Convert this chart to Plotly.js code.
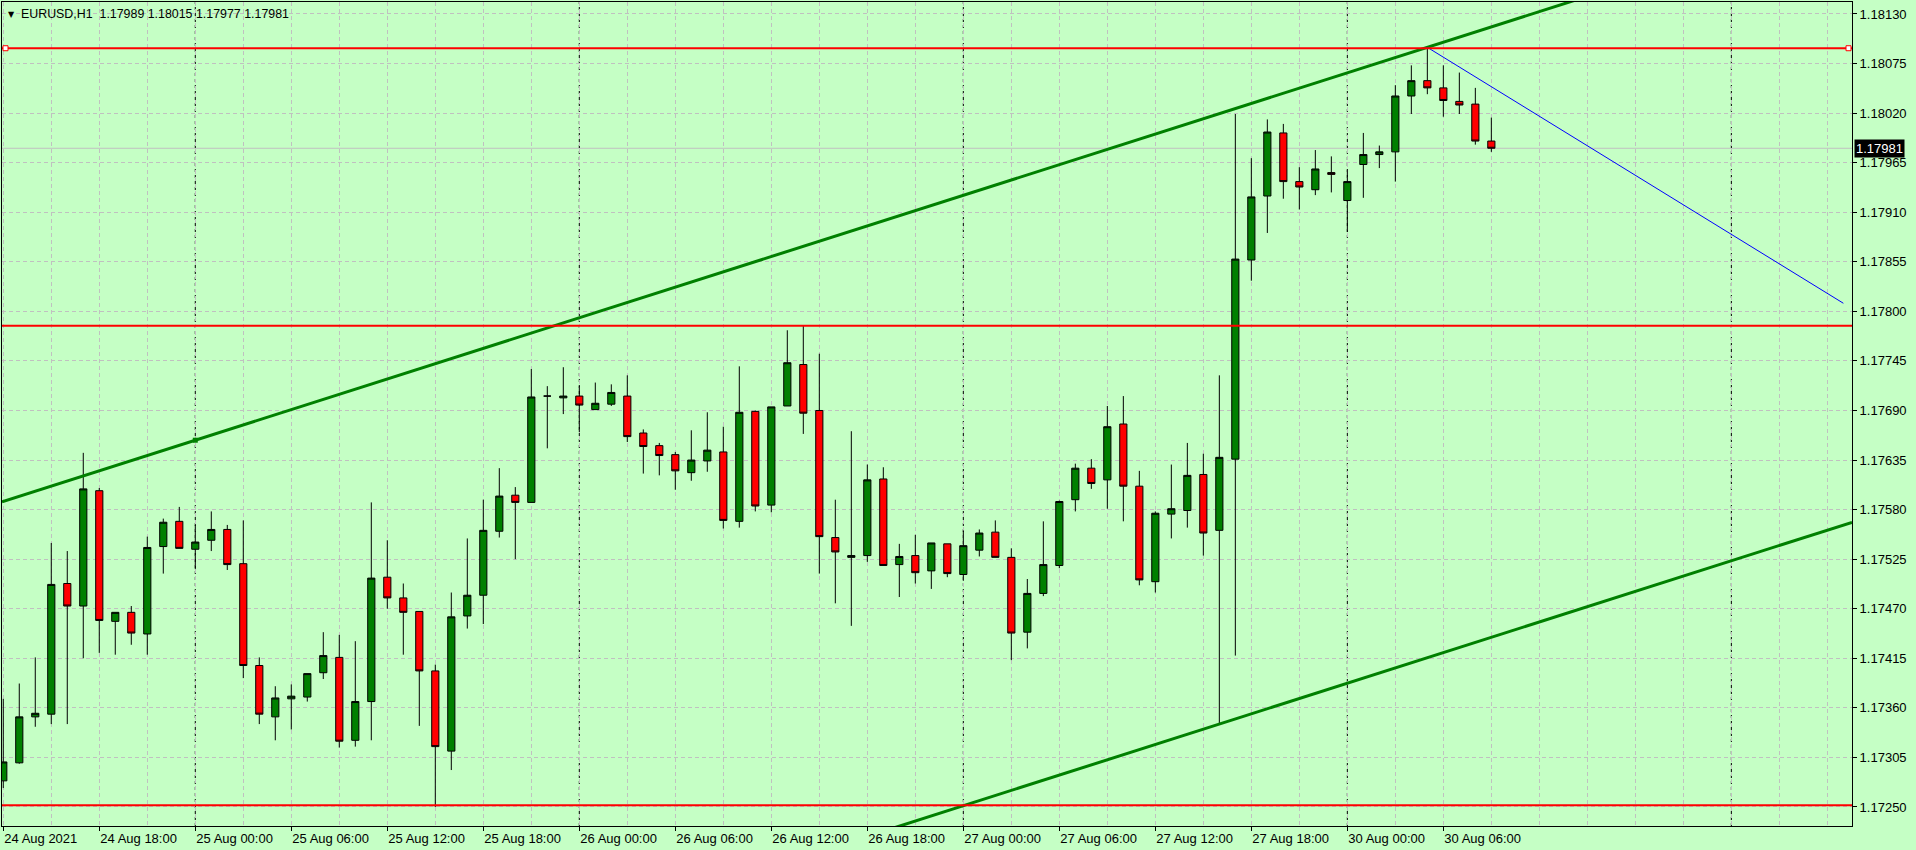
<!DOCTYPE html>
<html><head><meta charset="utf-8">
<script src="https://cdn.plot.ly/plotly-3.0.1.min.js"></script>
<style>html,body{margin:0;padding:0;background:#C5FFC5;overflow:hidden}#chart{width:1916px;height:850px}</style>
</head><body><div id="chart"></div>
<script>
// ---- data ----
const symbol = "EURUSD,H1";
const firstBarUTC = [2021, 7, 24, 12]; // 24 Aug 2021 12:00
const open = [1.17279,1.17299,1.17350,1.17353,1.17498,1.17473,1.17601,1.17456,1.17466,1.17442,
1.17539,1.17567,1.17536,1.17546,1.17558,1.17520,1.17407,1.17350,1.17370,1.17372,
1.17399,1.17416,1.17324,1.17367,1.17505,1.17482,1.17467,1.17401,1.17312,1.17462,
1.17485,1.17556,1.17596,1.17588,1.17706,1.17704,1.17706,1.17691,1.17697,1.17706,
1.17665,1.17651,1.17641,1.17621,1.17634,1.17644,1.17567,1.17689,1.17585,1.17695,
1.17741,1.17690,1.17549,1.17527,1.17529,1.17614,1.17519,1.17529,1.17512,1.17542,
1.17508,1.17535,1.17555,1.17527,1.17444,1.17487,1.17518,1.17591,1.17626,1.17613,
1.17675,1.17606,1.17500,1.17575,1.17579,1.17619,1.17557,1.17636,1.17857,1.17928,
1.17998,1.17944,1.17935,1.17954,1.17923,1.17963,1.17974,1.17977,1.18039,1.18056,
1.18048,1.18033,1.18030,1.17989];
const high = [1.17370,1.17387,1.17416,1.17543,1.17534,1.17643,1.17604,1.17466,1.17473,1.17550,
1.17570,1.17583,1.17563,1.17578,1.17563,1.17568,1.17416,1.17384,1.17386,1.17398,
1.17444,1.17441,1.17434,1.17588,1.17546,1.17498,1.17467,1.17408,1.17488,1.17548,
1.17591,1.17626,1.17605,1.17736,1.17717,1.17738,1.17717,1.17721,1.17719,1.17729,
1.17669,1.17654,1.17644,1.17668,1.17688,1.17672,1.17739,1.17690,1.17694,1.17779,
1.17784,1.17753,1.17591,1.17667,1.17630,1.17627,1.17542,1.17552,1.17543,1.17542,
1.17557,1.17558,1.17568,1.17537,1.17503,1.17567,1.17590,1.17631,1.17636,1.17695,
1.17706,1.17623,1.17578,1.17630,1.17654,1.17642,1.17729,1.18019,1.17970,1.18013,
1.18008,1.17960,1.17979,1.17972,1.17957,1.17998,1.17984,1.18051,1.18073,1.18093,
1.18073,1.18065,1.18048,1.18015];
const low = [1.17271,1.17298,1.17339,1.17342,1.17342,1.17415,1.17421,1.17419,1.17430,1.17419,
1.17509,1.17537,1.17514,1.17534,1.17513,1.17393,1.17342,1.17324,1.17336,1.17367,
1.17392,1.17316,1.17317,1.17324,1.17470,1.17419,1.17340,1.17250,1.17291,1.17448,
1.17453,1.17549,1.17525,1.17588,1.17648,1.17686,1.17666,1.17691,1.17695,1.17655,
1.17620,1.17618,1.17602,1.17612,1.17622,1.17559,1.17560,1.17578,1.17577,1.17695,
1.17664,1.17509,1.17476,1.17451,1.17522,1.17518,1.17483,1.17498,1.17492,1.17505,
1.17501,1.17528,1.17527,1.17413,1.17426,1.17484,1.17515,1.17578,1.17603,1.17581,
1.17567,1.17496,1.17488,1.17548,1.17560,1.17529,1.17342,1.17418,1.17834,1.17887,
1.17925,1.17913,1.17929,1.17932,1.17888,1.17926,1.17959,1.17944,1.18019,1.18041,
1.18016,1.18019,1.17985,1.17977];
const close = [1.17300,1.17350,1.17354,1.17497,1.17473,1.17603,1.17457,1.17466,1.17443,1.17538,
1.17566,1.17537,1.17544,1.17558,1.17519,1.17407,1.17353,1.17371,1.17373,1.17398,
1.17418,1.17323,1.17367,1.17504,1.17482,1.17466,1.17401,1.17317,1.17461,1.17485,
1.17557,1.17595,1.17588,1.17705,1.17706,1.17706,1.17696,1.17698,1.17710,1.17661,
1.17650,1.17640,1.17623,1.17635,1.17646,1.17568,1.17688,1.17584,1.17694,1.17743,
1.17687,1.17550,1.17533,1.17529,1.17613,1.17518,1.17528,1.17510,1.17543,1.17509,
1.17540,1.17554,1.17527,1.17443,1.17487,1.17519,1.17589,1.17626,1.17609,1.17672,
1.17606,1.17502,1.17576,1.17581,1.17618,1.17554,1.17638,1.17858,1.17927,1.17999,
1.17944,1.17938,1.17958,1.17952,1.17944,1.17974,1.17977,1.18039,1.18056,1.18048,
1.18034,1.18029,1.17989,1.17981];
// horizontal levels (price)
const levels = [1.18092, 1.17784, 1.17252];
// channel: two anchors of the upper line (bar index, price) and one anchor of the parallel line
const channelBars = [12, 89];
const channelPrices = [1.17657, 1.18093];
const parallelBar = 76;
const parallelPrice = 1.17342;
// blue trend segment
const segBars = [89, 115];
const segPrices = [1.18093, 1.17809];

// ---- time axis ----
const months = ['Jan','Feb','Mar','Apr','May','Jun','Jul','Aug','Sep','Oct','Nov','Dec'];
const N = open.length;
const X_MIN = -0.08, X_MAX = 115.54;
const totalBars = Math.ceil(X_MAX) + 1;
const times = [];
{
  let t = Date.UTC(firstBarUTC[0], firstBarUTC[1], firstBarUTC[2], firstBarUTC[3]);
  times.push(new Date(t));
  while (times.length < totalBars) {
    t += 3600e3;
    const d = new Date(t).getUTCDay();
    if (d !== 0 && d !== 6) times.push(new Date(t));
  }
}
const pad = n => String(n).padStart(2, '0');
const idx = open.map((_, i) => i);
const tickvals = [], ticktext = [], minorvals = [], separators = [];
times.forEach((d, k) => {
  const h = d.getUTCHours();
  if (h % 6 === 0 && k < N) {
    tickvals.push(k);
    ticktext.push(k === 0 ? `${d.getUTCDate()} ${months[d.getUTCMonth()]} ${d.getUTCFullYear()}`
                          : `${d.getUTCDate()} ${months[d.getUTCMonth()]} ${pad(h)}:00`);
  }
  if (h % 3 === 0) minorvals.push(k);
  if (h === 0) separators.push(k);
});

// ---- lines ----
const slope = (channelPrices[1] - channelPrices[0]) / (channelBars[1] - channelBars[0]);
const lineAt = (k0, p0, k) => p0 + slope * (k - k0);

const FONT = 'Liberation Sans, Arial, sans-serif';
const GRID = '#c0c0c0';
const traces = [
  {
    type: 'candlestick', x: idx, open, high, low, close,
    increasing: {line: {color: '#000000', width: 1}, fillcolor: '#008000'},
    decreasing: {line: {color: '#000000', width: 1}, fillcolor: '#ff0000'},
    whiskerwidth: 0, hoverinfo: 'skip', showlegend: false
  },
  {
    type: 'scatter', mode: 'lines', x: [X_MIN, X_MAX],
    y: [lineAt(channelBars[0], channelPrices[0], X_MIN), lineAt(channelBars[0], channelPrices[0], X_MAX)],
    line: {color: '#008000', width: 3}, hoverinfo: 'skip', showlegend: false
  },
  {
    type: 'scatter', mode: 'lines', x: [X_MIN, X_MAX],
    y: [lineAt(parallelBar, parallelPrice, X_MIN), lineAt(parallelBar, parallelPrice, X_MAX)],
    line: {color: '#008000', width: 3}, hoverinfo: 'skip', showlegend: false
  },
  {
    type: 'scatter', mode: 'markers', x: [channelBars[0]], y: [channelPrices[0]],
    marker: {symbol: 'square', size: 5, color: '#008000'}, hoverinfo: 'skip', showlegend: false
  },
  {
    type: 'scatter', mode: 'lines', x: segBars, y: segPrices,
    line: {color: '#0000ff', width: 1}, hoverinfo: 'skip', showlegend: false
  }
];

const shapes = [];
// current bid line
shapes.push({type: 'line', xref: 'paper', x0: 0, x1: 1, yref: 'y', y0: close[N-1], y1: close[N-1],
  line: {color: '#c0c0c0', width: 1}, layer: 'below'});
// period separators
separators.forEach(k => shapes.push({type: 'line', xref: 'x', x0: k, x1: k, yref: 'paper', y0: 0, y1: 1,
  line: {color: '#000000', width: 1, dash: '3px,3px'}, layer: 'below'}));
// horizontal levels
levels.forEach(p => shapes.push({type: 'line', xref: 'paper', x0: 0, x1: 1, yref: 'y', y0: p, y1: p,
  line: {color: '#ff0000', width: 2}, layer: 'above'}));
// selection squares at the ends of the first level
[0, 1].forEach(px => shapes.push({type: 'rect', xref: 'paper', xsizemode: 'pixel', xanchor: px,
  x0: px === 0 ? 1 : -6, x1: px === 0 ? 6 : -1, yref: 'y', ysizemode: 'pixel', yanchor: levels[0], y0: -2.5, y1: 2.5,
  line: {color: '#ff0000', width: 1}, fillcolor: '#ffffff', layer: 'above'}));

const f5 = v => v.toFixed(5);
const annotations = [
  {xref: 'paper', yref: 'paper', x: 0, y: 1, xanchor: 'left', yanchor: 'top', xshift: 4, yshift: -6,
   text: '▼', showarrow: false, font: {family: 'DejaVu Sans', size: 8, color: '#000'}},
  {xref: 'paper', yref: 'paper', x: 0, y: 1, xanchor: 'left', yanchor: 'top', xshift: 17, yshift: -3,
   text: `${symbol}\u00a0\u00a0${f5(open[N-1])} ${f5(high[N-1])} ${f5(low[N-1])} ${f5(close[N-1])}`,
   showarrow: false, font: {family: FONT, size: 12.4, color: '#000'}},
  {xref: 'paper', yref: 'y', x: 1, y: close[N-1], xanchor: 'left', yanchor: 'middle', xshift: 2,
   text: f5(close[N-1]), showarrow: false, bgcolor: '#000000', borderpad: 1,
   font: {family: FONT, size: 13, color: '#ffffff'}}
];

const layout = {
  width: 1916, height: 850, autosize: false,
  margin: {l: 2, r: 64, t: 2, b: 24, pad: 0},
  paper_bgcolor: '#C5FFC5', plot_bgcolor: '#C5FFC5',
  font: {family: FONT, size: 13, color: '#000'},
  showlegend: false, hovermode: false, boxgap: 0.36,
  xaxis: {
    range: [X_MIN, X_MAX], type: 'linear', rangeslider: {visible: false},
    tickmode: 'array', tickvals, ticktext, ticks: 'outside', ticklen: 4, tickcolor: '#000',
    ticklabelposition: 'outside right',
    showgrid: true, gridcolor: GRID, griddash: '4px,3px', gridwidth: 1,
    minor: {tickmode: 'array', tickvals: minorvals, showgrid: true, gridcolor: GRID, griddash: '4px,3px', ticks: ''},
    showline: true, linecolor: '#000', linewidth: 1, mirror: true, zeroline: false,
    tickfont: {family: FONT, size: 13, color: '#000'}
  },
  yaxis: {
    range: [1.172289, 1.181433], side: 'right',
    tickmode: 'linear', tick0: 1.1725, dtick: 0.00055, tickformat: '.5f',
    ticks: 'outside', ticklen: 4, tickcolor: '#000',
    showgrid: true, gridcolor: GRID, griddash: '4px,3px', gridwidth: 1,
    showline: true, linecolor: '#000', linewidth: 1, mirror: true, zeroline: false,
    tickfont: {family: FONT, size: 13, color: '#000'}
  },
  shapes, annotations
};

Plotly.newPlot('chart', traces, layout, {staticPlot: true, displayModeBar: false});
</script>
</body></html>
